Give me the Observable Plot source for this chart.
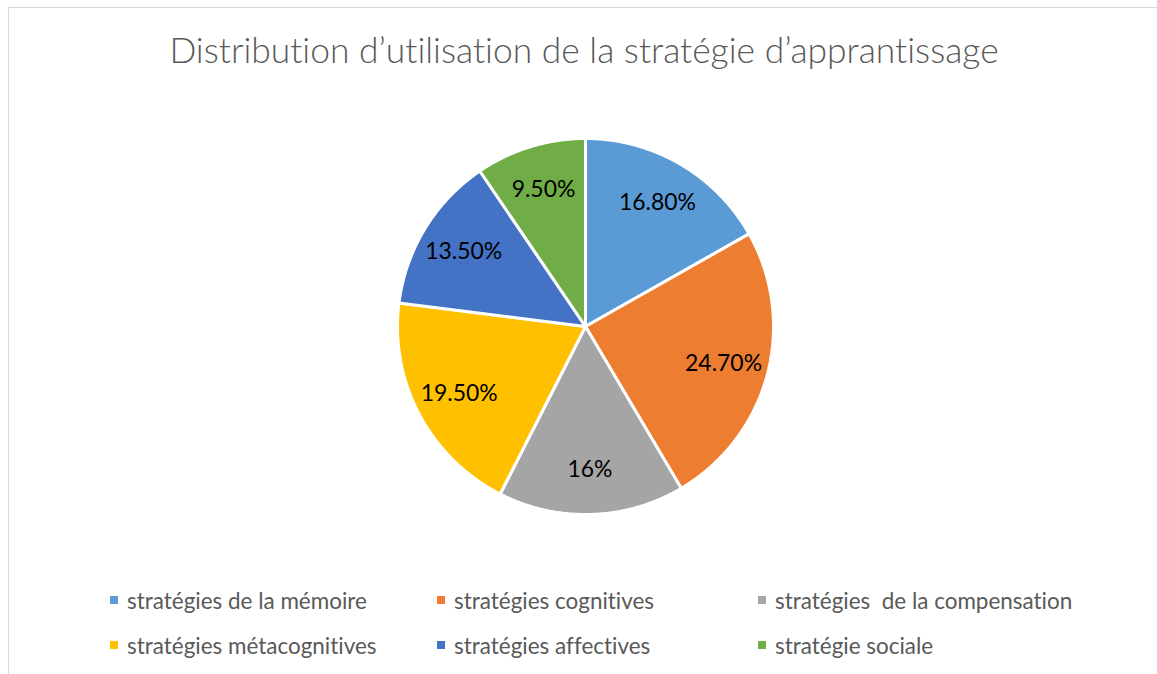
<!DOCTYPE html>
<html><head><meta charset="utf-8">
<script src="https://cdn.jsdelivr.net/npm/d3@7"></script>
<script src="https://cdn.jsdelivr.net/npm/@observablehq/plot@0.6"></script>
<style>
body{margin:0;background:#fff;font-family:Lato,"Open Sans",sans-serif;font-variant-ligatures:none;font-feature-settings:"liga" 0;}
#wrap{position:relative;width:1157px;height:674px;overflow:hidden;background:#fff;}
#frame{position:absolute;left:8px;top:7px;width:1300px;height:800px;border-top:1px solid #d9d9d9;border-left:1px solid #d9d9d9;box-sizing:border-box;}
#title{position:absolute;left:0;width:1168px;text-align:center;color:#595959;white-space:pre;font-weight:300;}
#chart{position:absolute;left:0;top:0;}
#chart text{font-variant-ligatures:none;}
.leg{position:absolute;display:flex;align-items:center;color:#595959;white-space:pre;}
.sw{width:8px;height:8px;margin-right:9px;flex:none;}
</style>
</head><body>
<div id="wrap">
  <div id="frame"></div>
  <div id="chart"></div>
  <div id="title"></div>
  <div id="legend"></div>
</div>
<script>
const title = "Distribution d’utilisation de la stratégie d’apprantissage";
const categories = ["stratégies de la mémoire", "stratégies cognitives", "stratégies  de la compensation", "stratégies métacognitives", "stratégies affectives", "stratégie sociale"];
const values = [16.8, 24.7, 16, 19.5, 13.5, 9.5];
const labels = ["16.80%", "24.70%", "16%", "19.50%", "13.50%", "9.50%"];
const colors = ["#5B9BD5", "#ED7D31", "#A5A5A5", "#FFC000", "#4472C4", "#70AD47"];

const FONT = "Lato, 'Open Sans', sans-serif";
function fitSize(text, target, weight) {
  const c = document.createElement("canvas").getContext("2d");
  c.font = `${weight||400} 100px ${FONT}`;
  return 100 * target / c.measureText(text).width;
}

// title
const tEl = document.getElementById("title");
const tSize = fitSize(title, 832, 300);
tEl.textContent = title;
tEl.style.fontSize = tSize + "px";
tEl.style.lineHeight = tSize + "px";
tEl.style.top = (63 - 0.887 * tSize) + "px";

// pie geometry (unit circle), starting at 12 o'clock clockwise
const total = d3.sum(values);
let cum = 0;
const slices = values.map((v, i) => {
  const a0 = cum / total * 2 * Math.PI;
  cum += v;
  const a1 = cum / total * 2 * Math.PI;
  return {name: categories[i], value: v, label: labels[i], a0, a1, mid: (a0 + a1) / 2};
});
const pts = [];
for (const s of slices) {
  pts.push({name: s.name, x: 0, y: 0});
  const n = Math.max(2, Math.ceil((s.a1 - s.a0) / (Math.PI / 360)));
  for (let k = 0; k <= n; k++) {
    const a = s.a0 + (s.a1 - s.a0) * k / n;
    pts.push({name: s.name, x: Math.sin(a), y: Math.cos(a)});
  }
  pts.push({name: s.name, x: 0, y: 0});
}

const cx = 585, cy = 326, R = 188;
const lblSize = fitSize("16.80%", 77, 400);
const plot = Plot.plot({
  width: 1157, height: 674, margin: 0,
  x: {domain: [-1, 1], range: [cx - R, cx + R], axis: null},
  y: {domain: [-1, 1], range: [cy + R, cy - R], axis: null},
  color: {domain: categories, range: colors},
  style: {background: "transparent", fontFamily: FONT},
  marks: [
    Plot.line(pts, {x: "x", y: "y", z: "name", fill: "name", stroke: "white", strokeWidth: 3, strokeLinejoin: "miter", curve: "linear"}),
    Plot.text(slices, {x: d => 0.76 * Math.sin(d.mid), y: d => 0.76 * Math.cos(d.mid), text: "label", fill: "#000", fontSize: lblSize})
  ]
});
document.getElementById("chart").appendChild(plot);

// legend
const legSize = fitSize(categories[0], 240, 400);
const colX = [110, 437, 758];
const rowY = [600, 645];
const leg = document.getElementById("legend");
categories.forEach((c, i) => {
  const d = document.createElement("div");
  d.className = "leg";
  d.style.left = colX[i % 3] + "px";
  d.style.fontSize = legSize + "px";
  d.style.height = "30px";
  d.style.top = (rowY[Math.floor(i / 3)] - 15) + "px";
  d.innerHTML = `<span class="sw" style="background:${colors[i]}"></span><span></span>`;
  d.lastChild.textContent = c;
  leg.appendChild(d);
});
</script>
</body></html>
